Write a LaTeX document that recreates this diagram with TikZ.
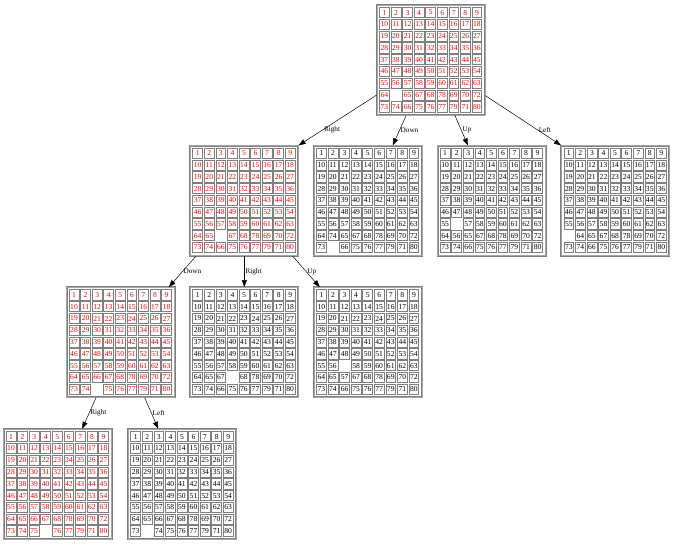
\documentclass[tikz,border=0pt]{standalone}
\usepackage{fontspec}
\setmainfont{Liberation Serif}
\usepackage{xcolor}
\usetikzlibrary{arrows.meta,positioning}
\definecolor{tileRed}{HTML}{FF0000}
\definecolor{frameC}{HTML}{7F7F7F}
\newcommand*{\holemark}{-}

% one 9x9 board: name, placement, text colour, rows 7-9
\newcommand{\board}[4]{%
  \node[board, #2] (#1) {};
  \begin{scope}[shift={(#1.north west)}]
    \foreach \row in {0,...,5}
      \foreach \col in {0,...,8} {
        \pgfmathtruncatemacro\v{9*\row+\col+1}
        \node[cell, text=#3] (#1-\row-\col) at ({7.78+11.56*\col},{-7.89-11.78*\row}) {\v};
      }
    \foreach \v [count=\k from 0] in {#4} {
      \pgfmathtruncatemacro\row{6+div(\k,9)}
      \pgfmathtruncatemacro\col{mod(\k,9)}
      \ifx\v\holemark
        \node[hole] (#1-\row-\col) at ({7.78+11.56*\col},{-7.89-11.78*\row}) {};
      \else
        \node[cell, text=#3] (#1-\row-\col) at ({7.78+11.56*\col},{-7.89-11.78*\row}) {\v};
      \fi
    }
  \end{scope}
}

\begin{document}
\begin{tikzpicture}[
    x=1pt, y=1pt,
    board/.style={draw=frameC, line width=0.7pt, double=black!35, double distance=0.6pt,
                  fill=white, minimum width=108pt, minimum height=110pt, inner sep=0pt},
    cell/.style={draw=frameC, line width=0.7pt, minimum width=9.8pt, minimum height=10.2pt,
                 inner sep=0pt, font=\fontsize{7.6}{8}\selectfont},
    hole/.style={minimum width=9.8pt, minimum height=10.2pt, inner sep=0pt},
    lbl/.style={font=\fontsize{7.2}{8}\selectfont, inner sep=1pt},
    arrow/.style={-{Triangle[length=7pt,width=5pt]}, line width=0.5pt, draw=black}
]
\useasboundingbox (0,0) rectangle (675,-544);

\board{root}{at={(431,-60)}}{tileRed}{55,56,57,58,59,60,61,62,63,64,-,65,67,68,78,69,70,72,73,74,66,75,76,77,79,71,80}
\board{r1}{below left=30pt and 78pt of root}{tileRed}{55,56,57,58,59,60,61,62,63,64,65,-,67,68,78,69,70,72,73,74,66,75,76,77,79,71,80}
\board{d1}{right=15pt of r1}{black}{55,56,57,58,59,60,61,62,63,64,74,65,67,68,78,69,70,72,73,-,66,75,76,77,79,71,80}
\board{u1}{right=15pt of d1}{black}{55,-,57,58,59,60,61,62,63,64,56,65,67,68,78,69,70,72,73,74,66,75,76,77,79,71,80}
\board{l1}{right=15pt of u1}{black}{55,56,57,58,59,60,61,62,63,-,64,65,67,68,78,69,70,72,73,74,66,75,76,77,79,71,80}
\board{r2}{below=31pt of r1}{black}{55,56,57,58,59,60,61,62,63,64,65,67,-,68,78,69,70,72,73,74,66,75,76,77,79,71,80}
\board{d2}{left=15pt of r2}{tileRed}{55,56,57,58,59,60,61,62,63,64,65,66,67,68,78,69,70,72,73,74,-,75,76,77,79,71,80}
\board{u2}{right=15pt of r2}{black}{55,56,-,58,59,60,61,62,63,64,65,57,67,68,78,69,70,72,73,74,66,75,76,77,79,71,80}
\board{r3}{below=31pt of d2, xshift=-63pt}{tileRed}{55,56,57,58,59,60,61,62,63,64,65,66,67,68,78,69,70,72,73,74,75,-,76,77,79,71,80}
\board{l3}{right=16pt of r3}{black}{55,56,57,58,59,60,61,62,63,64,65,66,67,68,78,69,70,72,73,-,74,75,76,77,79,71,80}

\draw[arrow] (root) -- (r1.north east) node[lbl, pos=.69, right] {Right};
\draw[arrow] (root) -- (d1) node[lbl, midway, right] {Down};
\draw[arrow] (root) -- (u1) node[lbl, midway, right] {Up};
\draw[arrow] (root) -- (l1.north west) node[lbl, pos=.69, right] {Left};
\draw[arrow] (r1) -- (d2) node[lbl, midway, right] {Down};
\draw[arrow] (r1) -- (r2) node[lbl, midway, right] {Right};
\draw[arrow] (r1) -- (u2) node[lbl, midway, right] {Up};
\draw[arrow] (d2) -- (r3) node[lbl, midway, right] {Right};
\draw[arrow] (d2) -- (l3) node[lbl, midway, right] {Left};
\end{tikzpicture}
\end{document}
